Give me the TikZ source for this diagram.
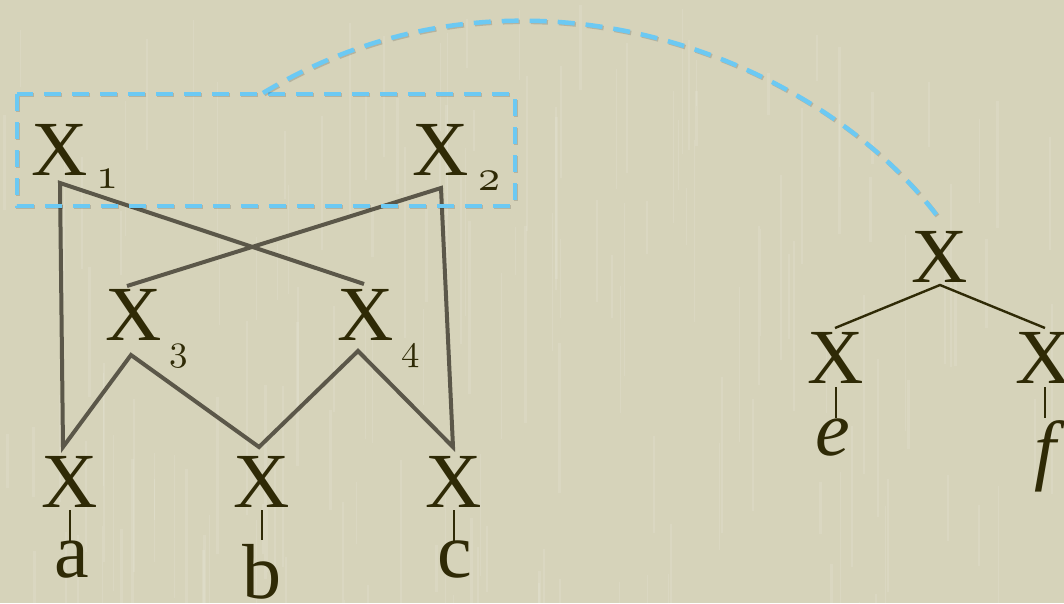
\documentclass[tikz,border=0pt]{standalone}
\usepackage{fontspec}
\setmainfont{Liberation Serif}
\DeclareFontFamily{OML}{oldfig}{\skewchar\font127 }
\DeclareFontShape{OML}{oldfig}{m}{it}{<-> cmmi10}{}
\definecolor{bg}{HTML}{D6D3BA}
\definecolor{ink}{HTML}{2F2A06}
\definecolor{edge}{HTML}{5B5749}
\definecolor{sky}{HTML}{6CC9F3}
\tikzset{
  lab/.style={inner sep=0pt, outer sep=0pt, text=ink, font=\fontsize{78}{78}\selectfont, anchor=base},
  ilab/.style={lab, font=\fontsize{78}{78}\selectfont\itshape},
  sub/.style={inner sep=0pt, outer sep=0pt, text=ink, font=\fontsize{44}{44}\usefont{OML}{oldfig}{m}{it}, anchor=north west},
  subs/.style={sub, font=\fontsize{37}{37}\usefont{OML}{oldfig}{m}{it}},
  edg/.style={draw=edge, line width=4pt, line join=miter},
  tedg/.style={draw=ink, line width=2.4pt},
  tickline/.style={draw=ink, line width=1.4pt},
  hl/.style={draw=sky, line width=4.5pt, dash pattern=on 17pt off 11pt,
    preaction={draw=black, opacity=0.15, line width=4.5pt, dash pattern=on 17pt off 11pt,
      transform canvas={xshift=1.2pt,yshift=-1.2pt}}}
}
\begin{document}
\begin{tikzpicture}[x=1pt,y=-1pt]
\useasboundingbox (0,0) rectangle (1064,603);
\fill[bg] (0,0) rectangle (1064,603);
\begin{scope}
\clip (0,0) rectangle (1064,603);
\pgfmathsetseed{7}
\foreach \i in {1,...,160}{
  \pgfmathsetmacro{\xx}{rnd*1064}
  \pgfmathsetmacro{\ya}{rnd*603}
  \pgfmathsetmacro{\yl}{40+rnd*160}
  \pgfmathsetmacro{\ww}{0.8+rnd*2.2}
  \draw[white, opacity=0.10, line width=\ww pt] (\xx,\ya) -- ++(0,\yl);
}
\end{scope}

% left graph labels
\node[lab] (x1) at (59.5,175) {X};
\node[sub] (s1) at (96,170) {1};
\node[lab] (x2) at (441,175) {X};
\node[sub] (s2) at (478,172) {2};
\node[lab] (x3) at (134,340) {X};
\node[subs] (s3) at (169,345) {3};
\node[lab] (x4) at (366,340) {X};
\node[subs] (s4) at (401,345) {4};
\node[lab] (xa) at (70,507) {X};
\node[lab] (xb) at (262,507) {X};
\node[lab] (xc) at (454,507) {X};
\node[lab] (la) at (72,577) {a};
\node[lab] (lb) at (262,598) {b};
\node[lab] (lc) at (455,577) {c};

% anchor points of connectors
\coordinate (x1b) at (60,183);
\coordinate (x2b) at (441,188);
\coordinate (x3t) at (127,286);
\coordinate (x4t) at (364,284);
\coordinate (x3b) at (131,355);
\coordinate (x4b) at (358,351);
\coordinate (xat) at (63,447);
\coordinate (xbt) at (259,447);
\coordinate (xct) at (453,447);
\coordinate (xad) at (70,510);
\coordinate (xbd) at (262,510);
\coordinate (xcd) at (454,510);
\coordinate (lat) at (70,542);
\coordinate (lbt) at (262,540);
\coordinate (lct) at (454,542);

\draw[edg] (x4t) -- (x1b) -- (xat) -- (x3b) -- (xbt) -- (x4b) -- (xct) -- (x2b) -- (x3t);
\draw[tickline] (xad) -- (lat);
\draw[tickline] (xbd) -- (lbt);
\draw[tickline] (xcd) -- (lct);

% right tree
\node[lab] (xt) at (940,282) {X};
\node[lab] (xe) at (836,383) {X};
\node[lab] (xf) at (1044,383) {X};
\node[ilab] (le) at (833,455) {e};
\node[ilab] (lf) at (1045,475) {f};
\coordinate (xtb) at (940,285);
\coordinate (xet) at (835,328);
\coordinate (xft) at (1045,328);
\coordinate (xed) at (836,387);
\coordinate (xfd) at (1045,387);
\coordinate (let) at (836,418);
\coordinate (lft) at (1045,418);
\draw[tedg] (xet) -- (xtb) -- (xft);
\draw[tickline] (xed) -- (let);
\draw[tickline] (xfd) -- (lft);

% highlight box and dashed link
\coordinate (bx1) at (17,94);
\coordinate (bx2) at (515,206);
\coordinate (arcs) at (263,93);
\coordinate (arce) at (938,217);
\draw[hl] (bx1) rectangle (bx2);
\draw[hl] (arcs) .. controls (520,-62) and (818,57) .. (arce);
\end{tikzpicture}
\end{document}
